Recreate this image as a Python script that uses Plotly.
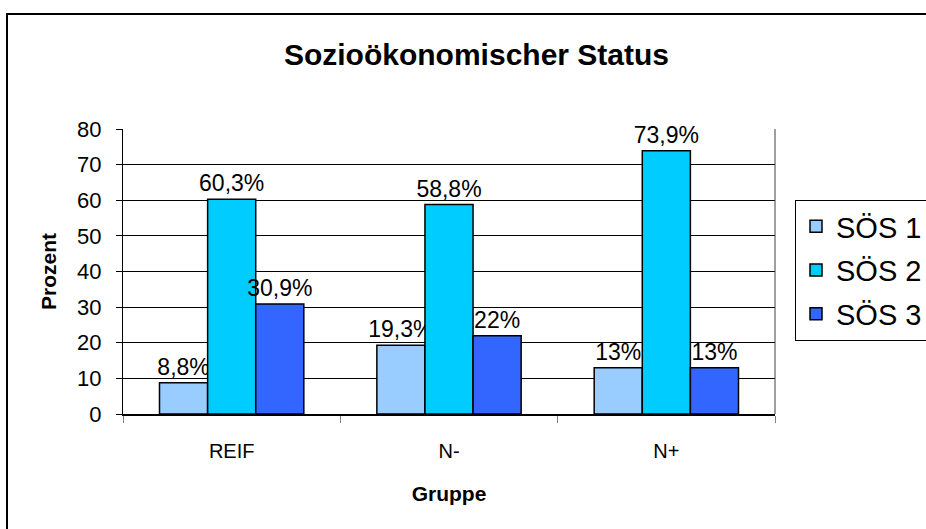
import plotly.graph_objects as go

categories = ["REIF", "N-", "N+"]
series_names = ["SÖS 1", "SÖS 2", "SÖS 3"]
sos1 = [8.8, 19.3, 13]
sos2 = [60.3, 58.8, 73.9]
sos3 = [30.9, 22, 13]
colors = ["#99CCFF", "#00CCFF", "#3366FF"]
y_ticks = [0, 10, 20, 30, 40, 50, 60, 70, 80]

W, H = 926, 529
L, R, T, B = 123, 151, 129, 115
PW, PH = W - L - R, H - T - B


def px_x(x):
    return (x - L) / PW


def px_y(y):
    return (H - B - y) / PH


def fmt(v):
    return f"{v:g}".replace(".", ",") + "%"


FONT = "Liberation Sans, Arial, sans-serif"

fig = go.Figure()
for name, vals, col in zip(series_names, [sos1, sos2, sos3], colors):
    fig.add_trace(go.Bar(
        name=name, x=categories, y=vals,
        marker=dict(color=col, line=dict(color="black", width=1.5)),
        text=[fmt(v) for v in vals], textposition="outside",
        textfont=dict(family=FONT, size=23, color="black"),
        constraintext="none", cliponaxis=False,
        legendgroup=name,
    ))

fig.update_layout(
    width=W, height=H,
    margin=dict(l=L, r=R, t=T, b=B, autoexpand=False),
    paper_bgcolor="white", plot_bgcolor="white",
    font=dict(family=FONT, color="black", size=21),
    barmode="group", bargap=0.336, bargroupgap=0,
    title=dict(text="<b>Sozioökonomischer Status</b>", x=476.5 / W, xref="container", xanchor="center",
               y=1 - 54 / H, yref="container", yanchor="middle",
               font=dict(family=FONT, size=30, color="black")),
    showlegend=True,
    legend=dict(x=px_x(795), xanchor="left", y=px_y(200), yanchor="top",
                bgcolor="white", bordercolor="black", borderwidth=1,
                font=dict(family=FONT, size=29, color="black"),
                traceorder="grouped", tracegroupgap=3),
    xaxis=dict(type="category", showgrid=False, showline=True, linecolor="black", linewidth=2,
               ticks="outside", tickson="boundaries", ticklen=7, tickcolor="#808080", tickwidth=1,
               ticklabelstandoff=18,
               tickfont=dict(family=FONT, size=20, color="black"),
               title=dict(text="<b>Gruppe</b>", font=dict(family=FONT, size=21, color="black"), standoff=25)),
    yaxis=dict(range=[0, 80], tickvals=y_ticks, showgrid=True, gridcolor="black", gridwidth=1,
               showline=True, linecolor="black", linewidth=1, zeroline=False,
               ticks="outside", ticklen=6, tickcolor="black",
               ticklabelstandoff=10,
               tickfont=dict(family=FONT, size=22, color="black"),
               title=dict(text="<b>Prozent</b>", font=dict(family=FONT, size=21, color="black"), standoff=14)),
    shapes=[
        dict(type="line", xref="paper", yref="paper", x0=1, x1=1, y0=0, y1=1,
             line=dict(color="#404040", width=1)),
        dict(type="rect", xref="paper", yref="paper",
             x0=px_x(7), x1=px_x(960), y0=px_y(560), y1=px_y(14),
             line=dict(color="black", width=2), layer="below"),
    ],
)

fig.write_html("out.html", config={"displayModeBar": False},
               post_script="document.body.style.margin='0';document.body.style.overflow='hidden';")
